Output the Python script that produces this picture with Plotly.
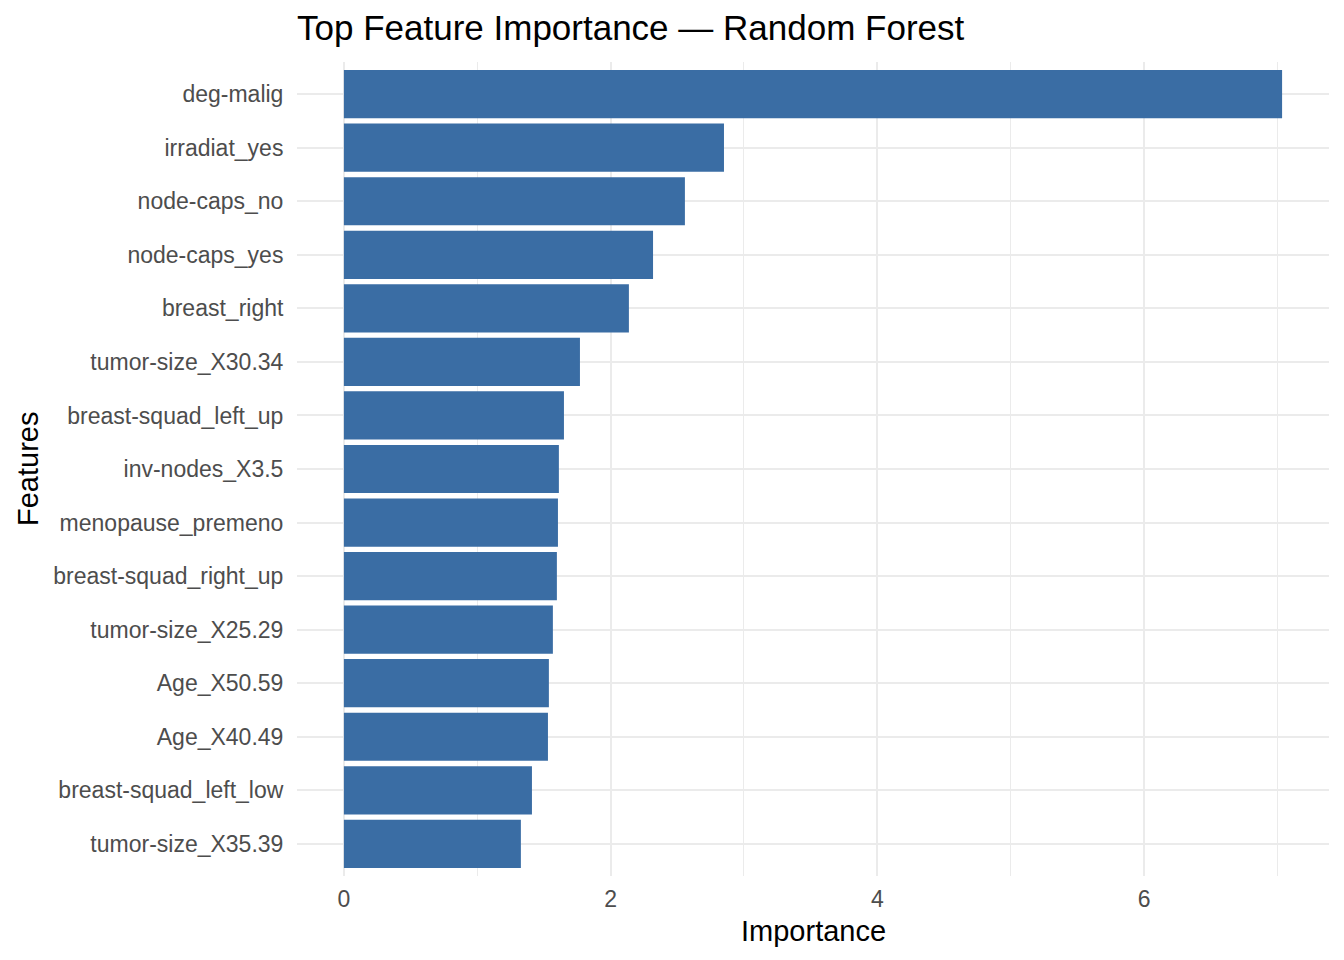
import plotly.graph_objects as go

# Feature importance values (top to bottom)
features = [
    "deg-malig", "irradiat_yes", "node-caps_no", "node-caps_yes", "breast_right",
    "tumor-size_X30.34", "breast-squad_left_up", "inv-nodes_X3.5", "menopause_premeno",
    "breast-squad_right_up", "tumor-size_X25.29", "Age_X50.59", "Age_X40.49",
    "breast-squad_left_low", "tumor-size_X35.39",
]
importance = [
    7.035, 2.85, 2.557, 2.318, 2.137,
    1.77, 1.65, 1.612, 1.605,
    1.597, 1.567, 1.537, 1.53,
    1.41, 1.327,
]

bar_color = "#3A6DA4"
grid_color = "#EBEBEB"
font_family = "Liberation Sans, Arial, sans-serif"

# page body has an 8px margin, so the figure is a bit smaller than the window
W, H = 1328, 944
OFF = 8

# ggplot-like expansion: 5% on continuous axis, 0.6 on discrete axis
xmax = max(importance)
pad = 0.05 * xmax
n = len(features)

fig = go.Figure()

fig.add_trace(
    go.Bar(
        x=importance,
        y=features,
        orientation="h",
        marker=dict(color=bar_color, line=dict(width=0)),
        showlegend=False,
    )
)

fig.update_layout(
    width=W,
    height=H,
    margin=dict(l=297 - OFF, r=OFF + W - 1329, t=62 - OFF, b=OFF + H - 876),
    paper_bgcolor="white",
    plot_bgcolor="white",
    bargap=0.1,
    font=dict(family=font_family, color="#4D4D4D"),
    title=dict(
        text="Top Feature Importance \u2014 Random Forest",
        font=dict(size=35, color="black", family=font_family),
        x=(297 - OFF) / W,
        xref="container",
        xanchor="left",
        y=1 - (28 - OFF) / H,
        yref="container",
        yanchor="middle",
    ),
    xaxis=dict(
        range=[-pad, xmax + pad],
        tick0=0,
        dtick=2,
        showgrid=True,
        gridcolor=grid_color,
        gridwidth=2.3,
        zeroline=False,
        showline=False,
        ticks="outside",
        ticklen=2,
        tickcolor="rgba(0,0,0,0)",
        tickfont=dict(size=23, color="#4D4D4D"),
        minor=dict(dtick=1, tick0=0, showgrid=True, gridcolor=grid_color, gridwidth=1.3),
    ),
    yaxis=dict(
        range=[n - 0.4, -0.6],
        showgrid=True,
        gridcolor=grid_color,
        gridwidth=2.3,
        zeroline=False,
        showline=False,
        ticks="outside",
        ticklen=8,
        tickcolor="rgba(0,0,0,0)",
        tickfont=dict(size=23, color="#4D4D4D"),
    ),
    annotations=[
        dict(
            text="Importance",
            xref="paper", yref="paper",
            x=0.5, y=-(931 - 876) / (876 - 62),
            xanchor="center", yanchor="middle",
            showarrow=False,
            font=dict(size=29, color="black"),
        ),
        dict(
            text="Features",
            xref="paper", yref="paper",
            x=-(297 - 28) / (1329 - 297), y=0.5,
            xanchor="center", yanchor="middle",
            textangle=-90,
            showarrow=False,
            font=dict(size=29, color="black"),
        ),
    ],
)

fig.write_html("out.html")
